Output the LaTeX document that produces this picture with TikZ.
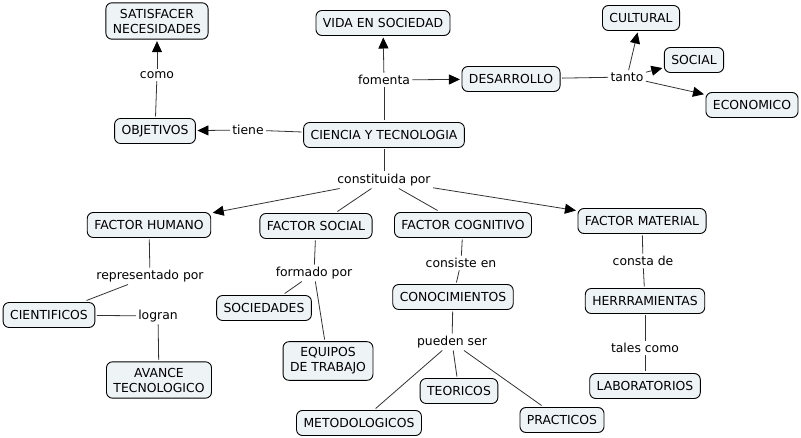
\documentclass[tikz,border=0pt]{standalone}
\usepackage{fontspec}
\setmainfont{DejaVu Sans}
\usetikzlibrary{arrows.meta}
\definecolor{conceptfill}{HTML}{EEF3F6}
\definecolor{linkgray}{HTML}{333333}
\tikzset{
  concept/.style={draw=black, fill=conceptfill, rounded corners=6pt, line width=0.9pt,
    inner xsep=7pt, inner ysep=6pt, minimum height=25pt, align=center, outer sep=2pt,
    font=\fontsize{12.4}{15}\selectfont},
  linkword/.style={inner sep=1.5pt, outer sep=1pt, font=\fontsize{12.4}{15}\selectfont},
  link/.style={draw=linkgray, line width=0.8pt},
  linkto/.style={link, -{Triangle[length=11pt,width=10pt,fill=black,color=black]}}
}
\begin{document}
\begin{tikzpicture}[x=1pt,y=-1pt]
        \useasboundingbox (0,0) rectangle (801,438);

        % concepts
        \node[concept] (satisfacer) at (157,21) {SATISFACER\\NECESIDADES};
        \node[concept] (vida) at (383,23) {VIDA EN SOCIEDAD};
        \node[concept] (cultural) at (641,18) {CULTURAL};
        \node[concept] (social) at (694,60) {SOCIAL};
        \node[concept] (economico) at (752,105) {ECONOMICO};
        \node[concept] (desarrollo) at (511,79) {DESARROLLO};
        \node[concept] (objetivos) at (155,131) {OBJETIVOS};
        \node[concept] (ciencia) at (384,135) {CIENCIA Y TECNOLOGIA};
        \node[concept] (fhumano) at (149,225) {FACTOR HUMANO};
        \node[concept] (fsocial) at (316,226) {FACTOR SOCIAL};
        \node[concept] (fcognitivo) at (463,225) {FACTOR COGNITIVO};
        \node[concept] (fmaterial) at (642,221) {FACTOR MATERIAL};
        \node[concept] (cientificos) at (49,315) {CIENTIFICOS};
        \node[concept] (sociedades) at (264,308) {SOCIEDADES};
        \node[concept] (conocimientos) at (453,297) {CONOCIMIENTOS};
        \node[concept] (herramientas) at (645,301) {HERRRAMIENTAS};
        \node[concept] (avance) at (159,380) {AVANCE\\TECNOLOGICO};
        \node[concept] (equipos) at (328,361) {EQUIPOS\\DE TRABAJO};
        \node[concept] (teoricos) at (459,391) {TEORICOS};
        \node[concept] (laboratorios) at (645,386) {LABORATORIOS};
        \node[concept] (metodologicos) at (359,423) {METODOLOGICOS};
        \node[concept] (practicos) at (562,420) {PRACTICOS};

        % linking words
        \node[linkword] (como) at (157,75) {como};
        \node[linkword] (fomenta) at (384,80) {fomenta};
        \node[linkword] (tiene) at (248,130) {tiene};
        \node[linkword] (tanto) at (627,77) {tanto};
        \node[linkword] (constituida) at (384,180) {constituida por};
        \node[linkword] (representado) at (150,276) {representado por};
        \node[linkword] (formado) at (314,273) {formado por};
        \node[linkword] (consiste) at (461,263) {consiste en};
        \node[linkword] (consta) at (643,261) {consta de};
        \node[linkword] (logran) at (158,316) {logran};
        \node[linkword] (pueden) at (452,342) {pueden ser};
        \node[linkword] (tales) at (645,348) {tales como};

        % lines
        \draw[link] (objetivos) -- (como);\draw[linkto] (como) -- (satisfacer);
        \draw[link] (ciencia) -- (fomenta);\draw[linkto] (fomenta) -- (vida);\draw[linkto] (fomenta) -- (desarrollo);
        \draw[link] (ciencia) -- (tiene);\draw[linkto] (tiene) -- (objetivos);
        \draw[link] (desarrollo) -- (tanto);
        \draw[linkto] (tanto) -- (cultural);\draw[linkto] (tanto) -- (social);\draw[linkto] (tanto) -- (economico);
        \draw[link] (ciencia) -- (constituida);
        \draw[linkto] (constituida) -- (fhumano);\draw[link] (constituida) -- (fsocial);
        \draw[link] (constituida) -- (fcognitivo);\draw[linkto] (constituida) -- (fmaterial);
        \draw[link] (fhumano) -- (representado);\draw[link] (representado) -- (cientificos);
        \draw[link] (cientificos) -- (logran);\draw[link] (logran) -- (avance);
        \draw[link] (fsocial) -- (formado);\draw[link] (formado) -- (sociedades);\draw[link] (formado) -- (equipos);
        \draw[link] (fcognitivo) -- (consiste);\draw[link] (consiste) -- (conocimientos);
        \draw[link] (conocimientos) -- (pueden);
        \draw[link] (pueden) -- (metodologicos);\draw[link] (pueden) -- (teoricos);\draw[link] (pueden) -- (practicos);
        \draw[link] (fmaterial) -- (consta);\draw[link] (consta) -- (herramientas);
        \draw[link] (herramientas) -- (tales);\draw[link] (tales) -- (laboratorios);
\end{tikzpicture}
\end{document}
